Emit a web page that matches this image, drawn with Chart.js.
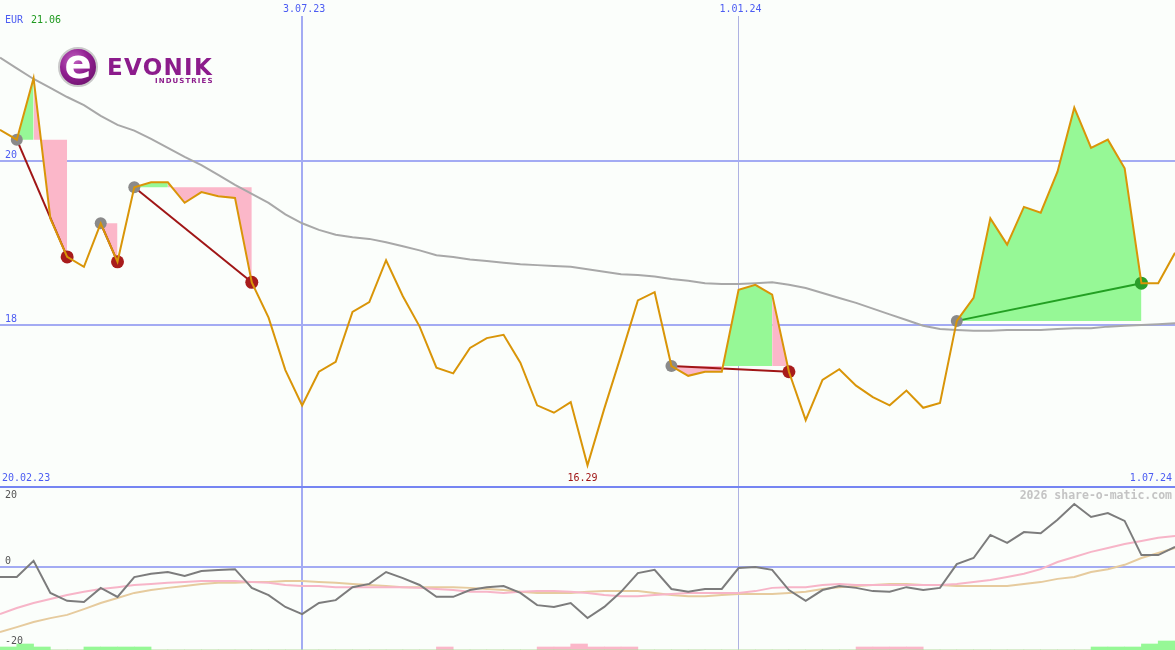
<!DOCTYPE html>
<html>
<head>
<meta charset="utf-8">
<title>Evonik</title>
<script src="https://cdn.jsdelivr.net/npm/chart.js@4.4.1/dist/chart.umd.min.js"></script>
<style>
    html, body { margin: 0; padding: 0; background: #fbfefb; }
    #wrap { position: relative; width: 1175px; height: 650px; overflow: hidden; background: #fbfefb; }
    #main { position: absolute; left: 0; top: 0; }
    #osc { position: absolute; left: 0; top: 489px; }
    .disc {
        position: absolute; left: 58px; top: 47px; width: 36px; height: 36px; border-radius: 50%;
        border: 2px solid #c9c9c9;
        background: radial-gradient(circle at 38% 32%, #c262c2 0%, #911f91 45%, #5e0c5e 100%);
        color: #fff; font: bold 40px/31px "DejaVu Sans"; text-align: center; overflow: hidden;
    }
    .word { position: absolute; left: 107px; top: 56px; color: #8c1c8c; font: bold 23px/23px "DejaVu Sans"; letter-spacing: 1.3px; }
    .sub { position: absolute; left: 155px; top: 78px; color: #8c1c8c; font: bold 7px/7px "DejaVu Sans"; letter-spacing: 1.1px; }
</style>
</head>
<body>
<div id="wrap">
    <canvas id="main" width="1175" height="489"></canvas>
    <canvas id="osc" width="1175" height="161"></canvas>
    <div class="disc">e</div>
    <div class="word">EVONIK</div>
    <div class="sub">INDUSTRIES</div>
</div>
<script>
// weekly closes, index 0 .. 70
const prices = [
    20.38, 20.26, 21.01, 19.30, 18.83, 18.71, 19.24, 18.77, 19.68, 19.74,
    19.74, 19.49, 19.62, 19.57, 19.55, 18.52, 18.09, 17.45, 17.02, 17.43,
    17.55, 18.16, 18.28, 18.79, 18.35, 17.98, 17.48, 17.41, 17.72, 17.84,
    17.88, 17.54, 17.02, 16.93, 17.06, 16.29, 16.98, 17.63, 18.30, 18.40,
    17.50, 17.38, 17.43, 17.43, 18.43, 18.49, 18.37, 17.43, 16.84, 17.33,
    17.46, 17.26, 17.12, 17.02, 17.20, 16.99, 17.05, 18.05, 18.33, 19.30,
    18.98, 19.44, 19.37, 19.87, 20.65, 20.16, 20.26, 19.91, 18.51, 18.51,
    18.88
];

// long moving average (grey)
const avgLine = [
    21.26, 21.13, 21.00, 20.89, 20.78, 20.68, 20.55, 20.44, 20.37, 20.27,
    20.16, 20.05, 19.95, 19.83, 19.71, 19.60, 19.49, 19.35, 19.24, 19.16,
    19.10, 19.07, 19.05, 19.01, 18.96, 18.91, 18.85, 18.83, 18.80, 18.78,
    18.76, 18.74, 18.73, 18.72, 18.71, 18.68, 18.65, 18.62, 18.61, 18.59,
    18.56, 18.54, 18.51, 18.50, 18.50, 18.51, 18.52, 18.49, 18.45, 18.39,
    18.33, 18.27, 18.20, 18.13, 18.06, 17.99, 17.95, 17.94, 17.93, 17.93,
    17.94, 17.94, 17.94, 17.95, 17.96, 17.96, 17.98, 17.99, 18.00, 18.01,
    18.02
];

// lower panel
const momentum = [
    -2.8, -2.8, 1.7, -7.2, -9.4, -9.7, -5.8, -8.3, -2.8, -1.9,
    -1.4, -2.5, -1.1, -0.8, -0.6, -5.8, -7.8, -11.1, -13.1, -10.0,
    -9.2, -5.6, -4.7, -1.4, -3.1, -5.0, -8.3, -8.3, -6.4, -5.6,
    -5.3, -7.2, -10.6, -11.1, -10.0, -14.2, -11.1, -6.9, -1.7, -0.8,
    -6.1, -6.9, -6.1, -6.1, -0.3, 0.0, -0.8, -6.4, -9.4, -6.4,
    -5.3, -5.8, -6.7, -6.9, -5.6, -6.4, -5.8, 0.8, 2.5, 8.9,
    6.7, 9.7, 9.4, 13.1, 17.5, 13.9, 15.0, 12.8, 3.3, 3.3,
    5.6
];
const momFast = [
    -13.1, -11.4, -10.0, -8.9, -7.8, -6.9, -6.1, -5.6, -5.0, -4.7,
    -4.4, -4.2, -3.9, -3.9, -3.9, -4.2, -4.4, -5.0, -5.3, -5.3,
    -5.6, -5.6, -5.6, -5.6, -5.6, -5.8, -6.1, -6.4, -6.9, -6.9,
    -7.2, -6.9, -6.7, -6.7, -6.9, -7.2, -7.8, -8.1, -8.1, -7.8,
    -7.5, -7.2, -7.2, -7.2, -7.2, -6.7, -5.8, -5.6, -5.6, -5.0,
    -4.7, -5.0, -5.0, -5.0, -5.0, -5.0, -5.0, -4.7, -4.2, -3.6,
    -2.8, -1.9, -0.6, 1.4, 2.8, 4.2, 5.3, 6.4, 7.2, 8.1,
    8.6
];
const momSlow = [
    -18.1, -16.7, -15.3, -14.2, -13.3, -11.7, -10.0, -8.6, -7.2, -6.4,
    -5.8, -5.3, -4.7, -4.4, -4.4, -4.2, -4.2, -3.9, -3.9, -4.2,
    -4.4, -4.7, -5.0, -5.3, -5.6, -5.6, -5.6, -5.6, -5.8, -6.1,
    -6.4, -6.9, -7.2, -7.2, -7.2, -6.9, -6.7, -6.7, -6.7, -7.2,
    -7.8, -8.1, -8.1, -7.8, -7.5, -7.5, -7.5, -7.2, -6.9, -6.1,
    -5.6, -5.3, -5.0, -4.7, -4.7, -5.0, -5.0, -5.3, -5.3, -5.3,
    -5.3, -4.7, -4.2, -3.3, -2.8, -1.4, -0.6, 0.6, 2.5, 3.9,
    5.3
];

// signal strength strips at the bottom
const greenBars = [
    1, 2, 1, 0, 0, 1, 1, 1, 1, 0,  0, 0, 0, 0, 0, 0, 0, 0, 0, 0,
    0, 0, 0, 0, 0, 0, 0, 0, 0, 0,  0, 0, 0, 0, 0, 0, 0, 0, 0, 0,
    0, 0, 0, 0, 0, 0, 0, 0, 0, 0,  0, 0, 0, 0, 0, 0, 0, 0, 0, 0,
    0, 0, 0, 0, 0, 1, 1, 1, 2, 3,  0
];
const pinkBars = [
    0, 0, 0, 0, 0, 0, 0, 0, 0, 0,  0, 0, 0, 0, 0, 0, 0, 0, 0, 0,
    0, 0, 0, 0, 0, 0, 1, 0, 0, 0,  0, 0, 1, 1, 2, 1, 1, 1, 0, 0,
    0, 0, 0, 0, 0, 0, 0, 0, 0, 0,  0, 1, 1, 1, 1, 0, 0, 0, 0, 0,
    0, 0, 0, 0, 0, 0, 0, 0, 0, 0,  0
];

// trade signals: entry week -> exit week
const signalStart = [1, 6, 8, 40, 57];
const signalEnd = [4, 7, 15, 47, 68];

// axes / labels
const priceTicks = [18, 20];
const oscLabels = [20, 0, -20];
const gridWeeks = [18, 44];
const gridDates = ['3.07.23', '1.01.24'];
const rangeDates = ['20.02.23', '1.07.24'];
const currency = 'EUR';
const highLabel = '21.06';

const FONT = '10px "DejaVu Sans Mono"';
const BLUE_TXT = '#4c5cf2';
const GRID = '#a3abf3';
const GREEN_FILL = '#96f896';
const PINK_FILL = '#fbb7c9';

const xy = (arr, from, to) => {
    const out = [];
    for (let i = from; i <= to; i++) out.push({ x: i, y: arr[i] });
    return out;
};

// ── Main panel datasets ─────────────────────────────────────
const mainSets = [];

mainSets.push({
    label: 'Kurs', data: xy(prices, 0, prices.length - 1),
    borderColor: '#d99508', borderWidth: 2, pointRadius: 0, fill: false, order: 0
});
mainSets.push({
    label: 'Schnitt', data: xy(avgLine, 0, avgLine.length - 1),
    borderColor: '#a8a8a8', borderWidth: 2, pointRadius: 0, fill: false, order: 5
});

signalStart.forEach((s, k) => {
    const e = signalEnd[k];
    const level = prices[s];
    const win = prices[e] > level;

    // fill between price and entry level, segment colour by where it ends
    let a = s;
    while (a < e) {
        const up = prices[a + 1] >= level;
        let b = a + 1;
        while (b < e && (prices[b + 1] >= level) === up) b++;
        mainSets.push({
            data: xy(prices, a, b), fill: { value: level },
            backgroundColor: up ? GREEN_FILL : PINK_FILL,
            borderColor: 'rgba(0,0,0,0)', borderWidth: 0, pointRadius: 0, order: 10
        });
        a = b;
    }

    mainSets.push({
        data: [{ x: s, y: prices[s] }, { x: e, y: prices[e] }],
        borderColor: win ? '#23a023' : '#a01616', borderWidth: 2, pointRadius: 0, fill: false, order: 3
    });
    mainSets.push({
        data: [{ x: s, y: prices[s] }], showLine: false,
        pointRadius: 6, pointBorderWidth: 0, pointBackgroundColor: '#8a8a8a', order: 2
    });
    mainSets.push({
        data: [{ x: e, y: prices[e] }], showLine: false,
        pointRadius: 6.5, pointBorderWidth: 0, pointBackgroundColor: win ? '#2a9e2a' : '#a81c1c', order: 2
    });
});

function xAxis() {
    return {
        type: 'linear', min: 0, max: prices.length - 1, bounds: 'data', offset: false,
        ticks: { display: false }, border: { display: false },
        grid: {
            drawTicks: false, offset: false,
            color: c => c.index === 0 ? GRID : '#aeb2e2',
            lineWidth: c => c.index === 0 ? 2 : 1
        },
        afterBuildTicks: s => { s.ticks = gridWeeks.map(v => ({ value: v })); },
        afterFit: s => { s.height = 0; }
    };
}

function label(ctx, text, x, y, color, align) {
    ctx.fillStyle = color;
    ctx.textAlign = align || 'left';
    ctx.fillText(text, x, y);
}

const mainText = {
    id: 'mainText',
    afterDraw(chart) {
        const { ctx, scales: { x, y } } = chart;
        ctx.save();
        ctx.font = FONT;
        ctx.textBaseline = 'middle';

        label(ctx, currency, 5, 20, BLUE_TXT);
        label(ctx, highLabel, 31, 20, '#1f9a1f');

        ctx.textBaseline = 'bottom';
        priceTicks.forEach(v => label(ctx, String(v), 5, y.getPixelForValue(v) - 1, BLUE_TXT));

        ctx.textBaseline = 'middle';
        gridWeeks.forEach((w, i) => {
            const px = x.getPixelForValue(w);
            const tw = ctx.measureText(gridDates[i]).width;
            ctx.fillStyle = '#fbfefb';
            ctx.fillRect(px - tw / 2 - 2, 0, tw + 5, 16);
            label(ctx, gridDates[i], px + 2, 9, BLUE_TXT, 'center');
        });

        const base = chart.height - 11;
        label(ctx, rangeDates[0], 2, base, BLUE_TXT);
        label(ctx, rangeDates[1], chart.width - 3, base, BLUE_TXT, 'right');

        const low = Math.min(...prices);
        const lowIdx = prices.indexOf(low);
        label(ctx, low.toFixed(2), x.getPixelForValue(lowIdx) - 5, base, '#a01616', 'center');
        ctx.restore();
    }
};

new Chart(document.getElementById('main'), {
    type: 'line',
    data: { datasets: mainSets },
    options: {
        responsive: false, animation: false, devicePixelRatio: 1, events: [],
        layout: { padding: 0, autoPadding: false },
        plugins: { legend: { display: false }, tooltip: { enabled: false } },
        scales: {
            x: xAxis(),
            y: {
                type: 'linear', min: 16.0, max: 21.963, bounds: 'data',
                ticks: { display: false }, border: { display: false },
                grid: {
                    drawTicks: false,
                    color: c => c.index === 0 ? '#7585f2' : GRID,
                    lineWidth: 2
                },
                afterBuildTicks: s => { s.ticks = [16.024, ...priceTicks].map(v => ({ value: v })); },
                afterFit: s => { s.width = 0; }
            }
        }
    },
    plugins: [mainText]
});

// ── Lower panel ─────────────────────────────────────────────
const barData = arr => arr.map((v, i) => ({ x: i + 0.5, y: v }));

const oscText = {
    id: 'oscText',
    afterDraw(chart) {
        const { ctx, scales: { y } } = chart;
        ctx.save();
        ctx.font = FONT;
        oscLabels.forEach(v => {
            ctx.textBaseline = v === 0 ? 'bottom' : 'middle';
            label(ctx, String(v), 5, y.getPixelForValue(v) + (v < 0 ? 2 : 0) - (v === 0 ? 1 : 0), '#555555');
        });
        ctx.font = 'bold 11.5px "DejaVu Sans Mono"';
        ctx.textBaseline = 'middle';
        label(ctx, '2026 share-o-matic.com', chart.width - 3, 7, '#c4c4c4', 'right');
        ctx.restore();
    }
};

new Chart(document.getElementById('osc'), {
    type: 'line',
    data: {
        datasets: [
            { data: xy(momentum, 0, momentum.length - 1), borderColor: '#7c7c7c', borderWidth: 2, pointRadius: 0, order: 0 },
            { data: xy(momFast, 0, momFast.length - 1), borderColor: '#f7b5c8', borderWidth: 2, pointRadius: 0, order: 1 },
            { data: xy(momSlow, 0, momSlow.length - 1), borderColor: '#e6cb9e', borderWidth: 2, pointRadius: 0, order: 2 },
            { type: 'bar', data: barData(greenBars), yAxisID: 'ySig', backgroundColor: GREEN_FILL,
              barPercentage: 1, categoryPercentage: 1, grouped: false, borderWidth: 0, order: 5 },
            { type: 'bar', data: barData(pinkBars), yAxisID: 'ySig', backgroundColor: PINK_FILL,
              barPercentage: 1, categoryPercentage: 1, grouped: false, borderWidth: 0, order: 5 }
        ]
    },
    options: {
        responsive: false, animation: false, devicePixelRatio: 1, events: [],
        layout: { padding: 0, autoPadding: false },
        plugins: { legend: { display: false }, tooltip: { enabled: false } },
        scales: {
            x: xAxis(),
            y: {
                type: 'linear', min: -23.06, max: 21.67, bounds: 'data',
                ticks: { display: false }, border: { display: false },
                grid: { drawTicks: false, color: GRID, lineWidth: 2 },
                afterBuildTicks: s => { s.ticks = [{ value: 0 }]; },
                afterFit: s => { s.width = 0; }
            },
            ySig: { type: 'linear', min: 0, max: 53.67, display: false }
        }
    },
    plugins: [oscText]
});
</script>
</body>
</html>
